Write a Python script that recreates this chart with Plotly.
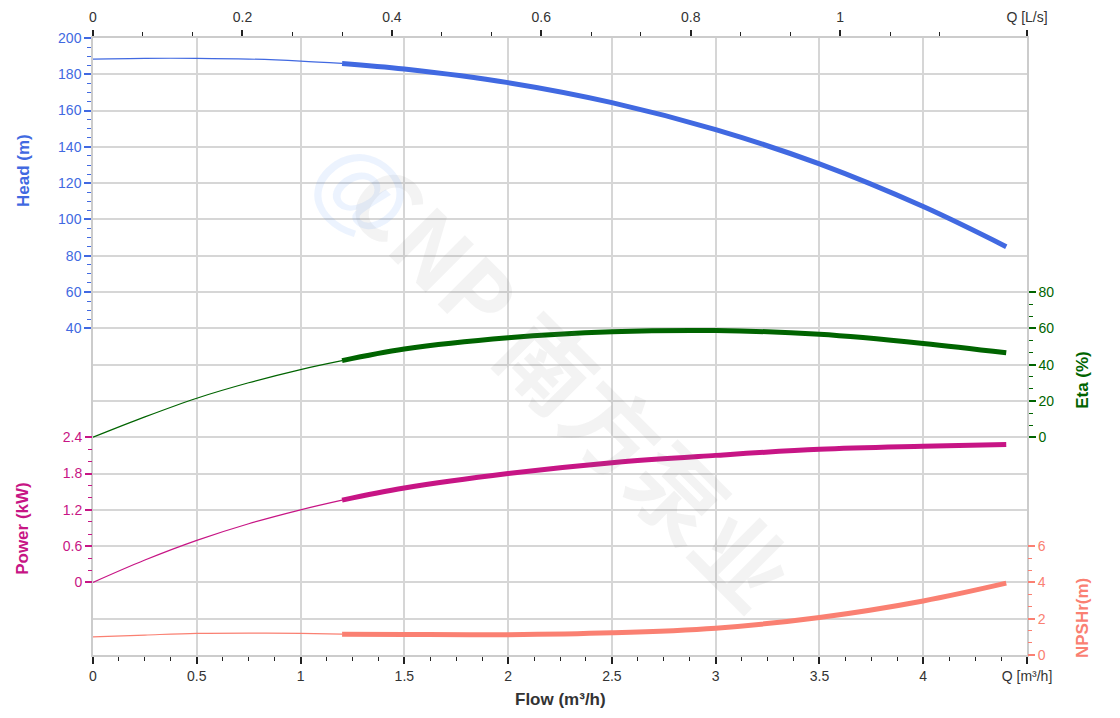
import plotly.graph_objects as go

# ---- data ----
flow_thin = [0, 0.25, 0.5, 0.75, 1.0, 1.2]
flow_thick = [1.2, 1.5, 2.0, 2.5, 3.0, 3.5, 4.0, 4.4]

head_thin = [188.4, 188.8, 188.8, 188.4, 187.3, 186.0]
head_thick = [186.0, 182.9, 175.4, 164.4, 149.5, 130.6, 107.1, 85.0]

eta_thin = [0, 11.2, 21.5, 30.0, 37.3, 42.2]
eta_thick = [42.2, 48.6, 54.8, 58.1, 58.8, 56.7, 51.7, 46.5]

power_thin = [0, 0.37, 0.695, 0.97, 1.2, 1.36]
power_thick = [1.36, 1.56, 1.80, 1.98, 2.10, 2.20, 2.25, 2.28]

npsh_thin = [1.0, 1.1, 1.19, 1.21, 1.19, 1.15]
npsh_thick = [1.15, 1.13, 1.12, 1.22, 1.48, 2.07, 2.98, 3.96]

flow_ticks = [0, 0.5, 1, 1.5, 2, 2.5, 3, 3.5, 4, 4.5]
flow_ticktext = ["0", "0.5", "1", "1.5", "2", "2.5", "3", "3.5", "4", "Q [m³/h]"]
ls_ticks = [0, 0.2, 0.4, 0.6, 0.8, 1.0, 1.25]
ls_ticktext = ["0", "0.2", "0.4", "0.6", "0.8", "1", "Q [L/s]"]
head_ticks = [40, 60, 80, 100, 120, 140, 160, 180, 200]
eta_ticks = [0, 20, 40, 60, 80]
power_ticks = [0, 0.6, 1.2, 1.8, 2.4]
npsh_ticks = [0, 2, 4, 6]

C_HEAD = "#4169E1"
C_ETA = "#006400"
C_POW = "#C71585"
C_NPSH = "#FA8072"
GRID = "#d6d6d6"
FONT = "Liberation Sans, Arial, sans-serif"

fig = go.Figure()

def add_curve(xs, ys, color, width, yaxis):
    fig.add_trace(go.Scatter(x=xs, y=ys, mode="lines", yaxis=yaxis,
                             line=dict(color=color, width=width, shape="spline", smoothing=1.0),
                             hoverinfo="skip", showlegend=False))

add_curve(flow_thin, head_thin, C_HEAD, 1.2, "y")
add_curve(flow_thick, head_thick, C_HEAD, 5, "y")
add_curve(flow_thin, power_thin, C_POW, 1.2, "y2")
add_curve(flow_thick, power_thick, C_POW, 5, "y2")
add_curve(flow_thin, eta_thin, C_ETA, 1.2, "y3")
add_curve(flow_thick, eta_thick, C_ETA, 5, "y3")
add_curve(flow_thin, npsh_thin, C_NPSH, 1.2, "y4")
add_curve(flow_thick, npsh_thick, C_NPSH, 5, "y4")
# invisible trace to activate top axis
fig.add_trace(go.Scatter(x=[0, 1.25], y=[0, 0], xaxis="x2", yaxis="y5", mode="lines",
                         line=dict(width=0, color="rgba(0,0,0,0)"), hoverinfo="skip", showlegend=False))

def minor_vals(lo, hi, step, majors):
    vals = []
    v = lo
    while v <= hi + 1e-9:
        if all(abs(v - m) > 1e-6 for m in majors):
            vals.append(round(v, 6))
        v += step
    return vals

tickfont = lambda c: dict(family=FONT, size=14, color=c)

fig.update_layout(
    width=1104, height=702,
    margin=dict(l=85, r=85, t=30, b=55, autoexpand=False),
    paper_bgcolor="white", plot_bgcolor="white",
    font=dict(family=FONT, color="#333"),
    xaxis=dict(range=[0, 4.5], tickmode="array", tickvals=flow_ticks, ticktext=flow_ticktext,
               automargin=False,
               showgrid=True, gridcolor=GRID, gridwidth=1.5, zeroline=False,
               showline=True, linecolor="#cccccc", linewidth=1.5,
               ticks="outside", ticklen=7, tickcolor="#222", tickwidth=1.5,
               minor=dict(tickmode="array", tickvals=minor_vals(0, 4.5, 0.125, flow_ticks),
                          ticks="outside", ticklen=4, tickcolor="#222", tickwidth=1.2, showgrid=False),
               tickfont=tickfont("#333")),
    xaxis2=dict(range=[0, 1.25], overlaying="x", side="top", anchor="y5", tickmode="array",
                automargin=False,
                tickvals=ls_ticks, ticktext=ls_ticktext, showgrid=False, zeroline=False,
                showline=True, linecolor="#cccccc", linewidth=1.5,
                ticks="outside", ticklen=6, tickcolor="#222", tickwidth=1.5,
                ticklabelstandoff=3,
                minor=dict(tickmode="array", tickvals=minor_vals(0, 1.14, 0.2 / 3, ls_ticks),
                           ticks="outside", ticklen=4, tickcolor="#222", tickwidth=1.2, showgrid=False),
                tickfont=tickfont("#333")),
    yaxis=dict(range=[-140, 200], tickmode="array", tickvals=head_ticks, side="left",
               automargin=False,
               showgrid=False, zeroline=False, showline=True, linecolor="#cccccc", linewidth=1.5,
               ticks="outside", ticklen=7, tickcolor=C_HEAD, tickwidth=1.5,
               minor=dict(tickmode="array", tickvals=minor_vals(40, 200, 5, head_ticks),
                          ticks="outside", ticklen=4, tickcolor=C_HEAD, tickwidth=1.2, showgrid=False),
               tickfont=tickfont(C_HEAD)),
    yaxis2=dict(range=[-1.2, 9.0], overlaying="y", side="left", anchor="x", tickmode="array",
                automargin=False,
                tickvals=power_ticks, showgrid=False, zeroline=False, showline=False,
                ticks="outside", ticklen=7, tickcolor=C_POW, tickwidth=1.5,
                minor=dict(tickmode="array", tickvals=minor_vals(0, 2.4, 0.2, power_ticks),
                           ticks="outside", ticklen=4, tickcolor=C_POW, tickwidth=1.2, showgrid=False),
                tickfont=tickfont(C_POW)),
    yaxis3=dict(range=[-120, 220], overlaying="y", side="right", anchor="x", tickmode="array",
                automargin=False,
                tickvals=eta_ticks, showgrid=False, zeroline=False, showline=True,
                linecolor="#cccccc", linewidth=1.5,
                ticks="outside", ticklen=7, tickcolor=C_ETA, tickwidth=1.5,
                minor=dict(tickmode="array", tickvals=minor_vals(0, 80, 20 / 3, eta_ticks),
                           ticks="outside", ticklen=4, tickcolor=C_ETA, tickwidth=1.2, showgrid=False),
                tickfont=tickfont(C_ETA)),
    yaxis4=dict(range=[0, 34], overlaying="y", side="right", anchor="x", tickmode="array",
                automargin=False,
                tickvals=npsh_ticks, showgrid=False, zeroline=False, showline=False,
                ticks="outside", ticklen=7, tickcolor=C_NPSH, tickwidth=1.5,
                minor=dict(tickmode="array", tickvals=minor_vals(0, 6, 2 / 3, npsh_ticks),
                           ticks="outside", ticklen=4, tickcolor=C_NPSH, tickwidth=1.2, showgrid=False),
                tickfont=tickfont(C_NPSH)),
    yaxis5=dict(range=[0, 17], overlaying="y", side="left", anchor="x", dtick=1, tick0=0,
                automargin=False,
                showgrid=True, gridcolor=GRID, gridwidth=1.5, zeroline=False,
                showticklabels=False, ticks="", showline=False),
)

def title_ann(text, x, y, color, angle=-90):
    fig.add_annotation(text=f"<b>{text}</b>", xref="paper", yref="paper", x=x, y=y,
                       xanchor="center", yanchor="middle",
                       showarrow=False, textangle=angle,
                       font=dict(family=FONT, size=17, color=color))

title_ann("Head (m)", -0.075, 0.786, C_HEAD)
title_ann("Power (kW)", -0.075, 0.206, C_POW)
title_ann("Eta (%)", 1.06, 0.446, C_ETA)
title_ann("NPSHr(m)", 1.06, 0.06, C_NPSH)
title_ann("Flow (m³/h)", 0.5, -0.072, "#333", angle=0)

# watermark
fig.add_annotation(text="<b>CNP 南方泵业</b>", xref="paper", yref="paper", x=0.515, y=0.44,
                   xanchor="center", yanchor="middle",
                   showarrow=False, textangle=45,
                   font=dict(family="Noto Sans CJK SC, Liberation Sans", size=92,
                             color="rgba(120,120,120,0.09)"))
fig.add_annotation(text="<b>@</b>", xref="paper", yref="paper", x=0.29, y=0.755,
                   xanchor="center", yanchor="middle",
                   showarrow=False, textangle=45,
                   font=dict(family="Liberation Sans", size=96,
                             color="rgba(66,133,244,0.10)"))

fig.write_html("out.html")
